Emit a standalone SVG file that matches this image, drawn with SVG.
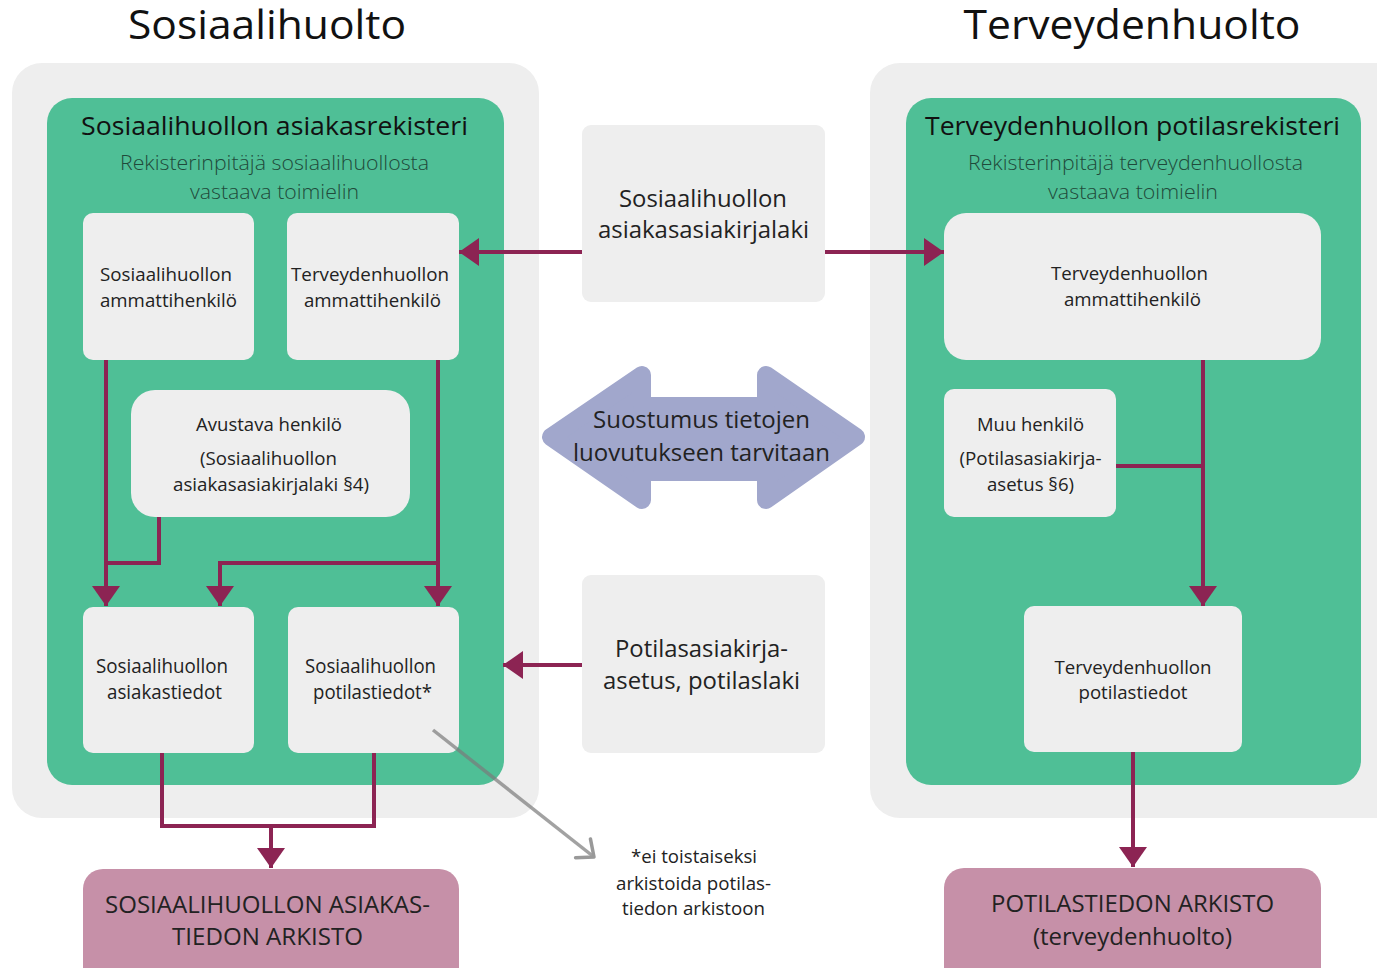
<svg xmlns="http://www.w3.org/2000/svg" width="1377" height="968" viewBox="0 0 1377 968">
<style>
text{font-family:"Open Sans","Noto Sans","Liberation Sans",sans-serif;fill:#222;text-anchor:middle}
.h1{font-size:41px;fill:#111}
.h2{font-size:26px;fill:#111}
.sub{font-size:21px;font-weight:300;fill:#1f4a3a}
.b{font-size:18px}
.bc{font-size:20px}
.m{font-size:23px}
.arch{font-size:23px}
.fn{font-size:19px}
.panel{fill:#eeeeee}
.green{fill:#4fbf96}
.box{fill:#eeeeee}
.arc{fill:#c690a8}
.con{fill:none;stroke:#8c2453;stroke-width:4}
</style>
<defs>
<marker id="ah" markerUnits="userSpaceOnUse" markerWidth="22" markerHeight="28" refX="20" refY="14" orient="auto" viewBox="0 0 22 28">
<path d="M0,0 L20,14 L0,28 Z" fill="#8c2453"/>
</marker>
<marker id="gh" markerUnits="userSpaceOnUse" markerWidth="24" markerHeight="30" refX="20" refY="15" orient="auto" viewBox="0 0 24 30">
<path d="M6,3 L20,15 L6,27" fill="none" stroke="#999" stroke-width="3.5" stroke-linecap="round" stroke-linejoin="round"/>
</marker>
</defs>

<text class="h1" x="267" y="39" textLength="278" lengthAdjust="spacingAndGlyphs">Sosiaalihuolto</text>
<text class="h1" x="1132" y="39" textLength="337" lengthAdjust="spacingAndGlyphs">Terveydenhuolto</text>

<g id="panel-sosiaali">
<rect class="panel" x="12" y="63" width="527" height="755" rx="30"/>
</g>
<g id="panel-terveys">
<rect class="panel" x="870" y="63" width="537" height="755" rx="30"/>
</g>

<g id="rekisteri-sosiaali">
<rect class="green" x="47" y="98" width="457" height="687" rx="25"/>
<text class="h2" x="274.5" y="135" textLength="387" lengthAdjust="spacingAndGlyphs">Sosiaalihuollon asiakasrekisteri</text>
<text class="sub" x="274.5" y="170" textLength="309" lengthAdjust="spacingAndGlyphs">Rekisterinpitäjä sosiaalihuollosta</text>
<text class="sub" x="274.5" y="199" textLength="169" lengthAdjust="spacingAndGlyphs">vastaava toimielin</text>
</g>
<g id="rekisteri-terveys">
<rect class="green" x="906" y="98" width="455" height="687" rx="25"/>
<text class="h2" x="1132.5" y="135" textLength="415" lengthAdjust="spacingAndGlyphs">Terveydenhuollon potilasrekisteri</text>
<text class="sub" x="1135.5" y="170" textLength="335" lengthAdjust="spacingAndGlyphs">Rekisterinpitäjä terveydenhuollosta</text>
<text class="sub" x="1133" y="199" textLength="170" lengthAdjust="spacingAndGlyphs">vastaava toimielin</text>
</g>

<g id="sos-ammattihenkilo">
<rect class="box" x="83" y="213" width="171" height="147" rx="10"/>
<text class="b" x="166" y="281" textLength="132" lengthAdjust="spacingAndGlyphs">Sosiaalihuollon</text>
<text class="b" x="168.5" y="307" textLength="137" lengthAdjust="spacingAndGlyphs">ammattihenkilö</text>
</g>
<g id="terv-ammattihenkilo-sos">
<rect class="box" x="287" y="213" width="172" height="147" rx="10"/>
<text class="b" x="370" y="281" textLength="158" lengthAdjust="spacingAndGlyphs">Terveydenhuollon</text>
<text class="b" x="372.5" y="307" textLength="137" lengthAdjust="spacingAndGlyphs">ammattihenkilö</text>
</g>
<g id="avustava-henkilo">
<rect class="box" x="131" y="390" width="279" height="127" rx="24"/>
<text class="b" x="269" y="431" textLength="146" lengthAdjust="spacingAndGlyphs">Avustava henkilö</text>
<text class="b" x="268.5" y="465" textLength="137" lengthAdjust="spacingAndGlyphs">(Sosiaalihuollon</text>
<text class="b" x="271" y="491" textLength="196" lengthAdjust="spacingAndGlyphs">asiakasasiakirjalaki §4)</text>
</g>
<g id="sos-asiakastiedot">
<rect class="box" x="83" y="607" width="171" height="146" rx="10"/>
<text class="bc" x="162" y="673" textLength="132" lengthAdjust="spacingAndGlyphs">Sosiaalihuollon</text>
<text class="bc" x="164.5" y="699" textLength="115" lengthAdjust="spacingAndGlyphs">asiakastiedot</text>
</g>
<g id="sos-potilastiedot">
<rect class="box" x="288" y="607" width="171" height="146" rx="10"/>
<text class="bc" x="370.5" y="673" textLength="131" lengthAdjust="spacingAndGlyphs">Sosiaalihuollon</text>
<text class="bc" x="372.5" y="699" textLength="119" lengthAdjust="spacingAndGlyphs">potilastiedot*</text>
</g>
<g id="sos-arkisto">
<rect class="arc" x="83" y="869" width="376" height="130" rx="20"/>
<text class="arch" x="267.5" y="913" textLength="325" lengthAdjust="spacingAndGlyphs">SOSIAALIHUOLLON ASIAKAS-</text>
<text class="arch" x="267.5" y="945" textLength="191" lengthAdjust="spacingAndGlyphs">TIEDON ARKISTO</text>
</g>

<g id="laki-asiakasasiakirja">
<rect class="box" x="582" y="125" width="243" height="177" rx="9"/>
<text class="m" x="703" y="207" textLength="168" lengthAdjust="spacingAndGlyphs">Sosiaalihuollon</text>
<text class="m" x="703.5" y="238" textLength="211" lengthAdjust="spacingAndGlyphs">asiakasasiakirjalaki</text>
</g>
<g id="suostumus">
<polygon points="551,437 642,375 642,406 766,406 766,375 856,437 766,500 766,472 642,472 642,500" fill="#a1a7cc" stroke="#a1a7cc" stroke-width="18" stroke-linejoin="round"/>
<text class="m" x="701.5" y="428" font-size="24" textLength="217" lengthAdjust="spacingAndGlyphs">Suostumus tietojen</text>
<text class="m" x="701.5" y="461" font-size="24" textLength="257" lengthAdjust="spacingAndGlyphs">luovutukseen tarvitaan</text>
</g>
<g id="laki-potilasasiakirja">
<rect class="box" x="582" y="575" width="243" height="178" rx="9"/>
<text class="m" x="701.5" y="657" textLength="173" lengthAdjust="spacingAndGlyphs">Potilasasiakirja-</text>
<text class="m" x="701.5" y="689" textLength="197" lengthAdjust="spacingAndGlyphs">asetus, potilaslaki</text>
</g>

<g id="terv-ammattihenkilo">
<rect class="box" x="944" y="213" width="377" height="147" rx="22"/>
<text class="b" x="1129.5" y="280" textLength="157" lengthAdjust="spacingAndGlyphs">Terveydenhuollon</text>
<text class="b" x="1132.5" y="306" textLength="137" lengthAdjust="spacingAndGlyphs">ammattihenkilö</text>
</g>
<g id="muu-henkilo">
<rect class="box" x="944" y="389" width="172" height="128" rx="10"/>
<text class="b" x="1030.5" y="431" textLength="107" lengthAdjust="spacingAndGlyphs">Muu henkilö</text>
<text class="b" x="1030.5" y="465" textLength="142" lengthAdjust="spacingAndGlyphs">(Potilasasiakirja-</text>
<text class="b" x="1030.5" y="491" textLength="87" lengthAdjust="spacingAndGlyphs">asetus §6)</text>
</g>
<g id="terv-potilastiedot">
<rect class="box" x="1024" y="606" width="218" height="146" rx="10"/>
<text class="b" x="1133" y="674" textLength="157" lengthAdjust="spacingAndGlyphs">Terveydenhuollon</text>
<text class="b" x="1133" y="699" textLength="109" lengthAdjust="spacingAndGlyphs">potilastiedot</text>
</g>
<g id="terv-arkisto">
<rect class="arc" x="944" y="868" width="377" height="130" rx="20"/>
<text class="arch" x="1132.5" y="912" textLength="283" lengthAdjust="spacingAndGlyphs">POTILASTIEDON ARKISTO</text>
<text class="arch" x="1132.5" y="945" textLength="199" lengthAdjust="spacingAndGlyphs">(terveydenhuolto)</text>
</g>

<g id="footnote">
<text class="fn" x="694" y="863" textLength="126" lengthAdjust="spacingAndGlyphs">*ei toistaiseksi</text>
<text class="fn" x="693.5" y="890" textLength="155" lengthAdjust="spacingAndGlyphs">arkistoida potilas-</text>
<text class="fn" x="693.5" y="915" textLength="143" lengthAdjust="spacingAndGlyphs">tiedon arkistoon</text>
</g>

<g id="connectors">
<path class="con" d="M582,252 H459" marker-end="url(#ah)"/>
<path class="con" d="M825,252 H944" marker-end="url(#ah)"/>
<path class="con" d="M582,665 H503" marker-end="url(#ah)"/>
<path class="con" d="M106,360 V606" marker-end="url(#ah)"/>
<path class="con" d="M159,517 V563 H106"/>
<path class="con" d="M438,360 V606" marker-end="url(#ah)"/>
<path class="con" d="M438,563 H220 V606" marker-end="url(#ah)"/>
<path class="con" d="M162,753 V826 H374 V753"/>
<path class="con" d="M271,826 V868" marker-end="url(#ah)"/>
<path class="con" d="M1203,360 V606" marker-end="url(#ah)"/>
<path class="con" d="M1116,466 H1203"/>
<path class="con" d="M1133,752 V867" marker-end="url(#ah)"/>
<path d="M433,730 L594,857" fill="none" stroke="#7a7a7a" stroke-opacity="0.7" stroke-width="3.5" marker-end="url(#gh)"/>
</g>
</svg>
